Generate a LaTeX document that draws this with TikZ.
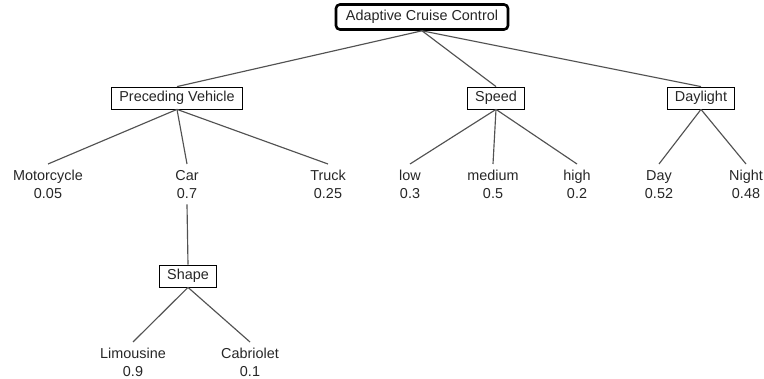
\documentclass[tikz,border=0pt]{standalone}
\usepackage{fontspec}
\setmainfont{Liberation Sans}
% two-line outcome label with an even first-line height
\newcommand{\outcome}[2]{\vphantom{Ml}#1\\#2}
\begin{document}
\begin{tikzpicture}[x=1pt,y=-1pt,
  every node/.style={font=\fontsize{14.4}{17.5}\selectfont, text=black!85},
  rootbox/.style={draw=black, line width=2.6pt, rounded corners=4pt,
    inner xsep=10pt, minimum height=25pt, fill=white},
  varbox/.style={draw=black, line width=0.8pt, inner xsep=7.5pt,
    minimum height=22pt, fill=white},
  leaf/.style={anchor=north, align=center, inner xsep=2pt, inner ysep=6pt},
  edge/.style={draw=black!68, line width=1.15pt}]
\useasboundingbox (0,0) rectangle (764,379);

% root
\node[rootbox] (acc) at (422,17) {Adaptive Cruise Control};

% variable boxes
\node[varbox] (pv)  at (177,98) {Preceding Vehicle};
\node[varbox] (spd) at (496,98) {Speed};
\node[varbox] (dl)  at (701,98) {Daylight};

% outcome leaves
\node[leaf] (moto)  at (48,164)  {\outcome{Motorcycle}{0.05}};
\node[leaf] (car)   at (187,164) {\outcome{Car}{0.7}};
\node[leaf] (truck) at (328,164) {\outcome{Truck}{0.25}};
\node[leaf] (low)   at (410,164) {\outcome{low}{0.3}};
\node[leaf] (med)   at (493,164) {\outcome{medium}{0.5}};
\node[leaf] (high)  at (577,164) {\outcome{high}{0.2}};
\node[leaf] (day)   at (659,164) {\outcome{Day}{0.52}};
\node[leaf] (night) at (746,164) {\outcome{Night}{0.48}};

% sub-variable under Car
\node[varbox] (shape) at (188,276) {Shape};
\node[leaf] (limo) at (133,342) {\outcome{Limousine}{0.9}};
\node[leaf] (cabr) at (250,342) {\outcome{Cabriolet}{0.1}};

% connectors
\draw[edge] (acc.south) -- (pv.north);
\draw[edge] (acc.south) -- (spd.north);
\draw[edge] (acc.south) -- (dl.north);

\draw[edge] (pv.south) -- (moto.north);
\draw[edge] (pv.south) -- (car.north);
\draw[edge] (pv.south) -- (truck.north);

\draw[edge] (spd.south) -- (low.north);
\draw[edge] (spd.south) -- (med.north);
\draw[edge] (spd.south) -- (high.north);

\draw[edge] (dl.south) -- (day.north);
\draw[edge] (dl.south) -- (night.north);

\draw[edge] (car.south) -- (shape.north);
\draw[edge] (shape.south) -- (limo.north);
\draw[edge] (shape.south) -- (cabr.north);
\end{tikzpicture}
\end{document}
